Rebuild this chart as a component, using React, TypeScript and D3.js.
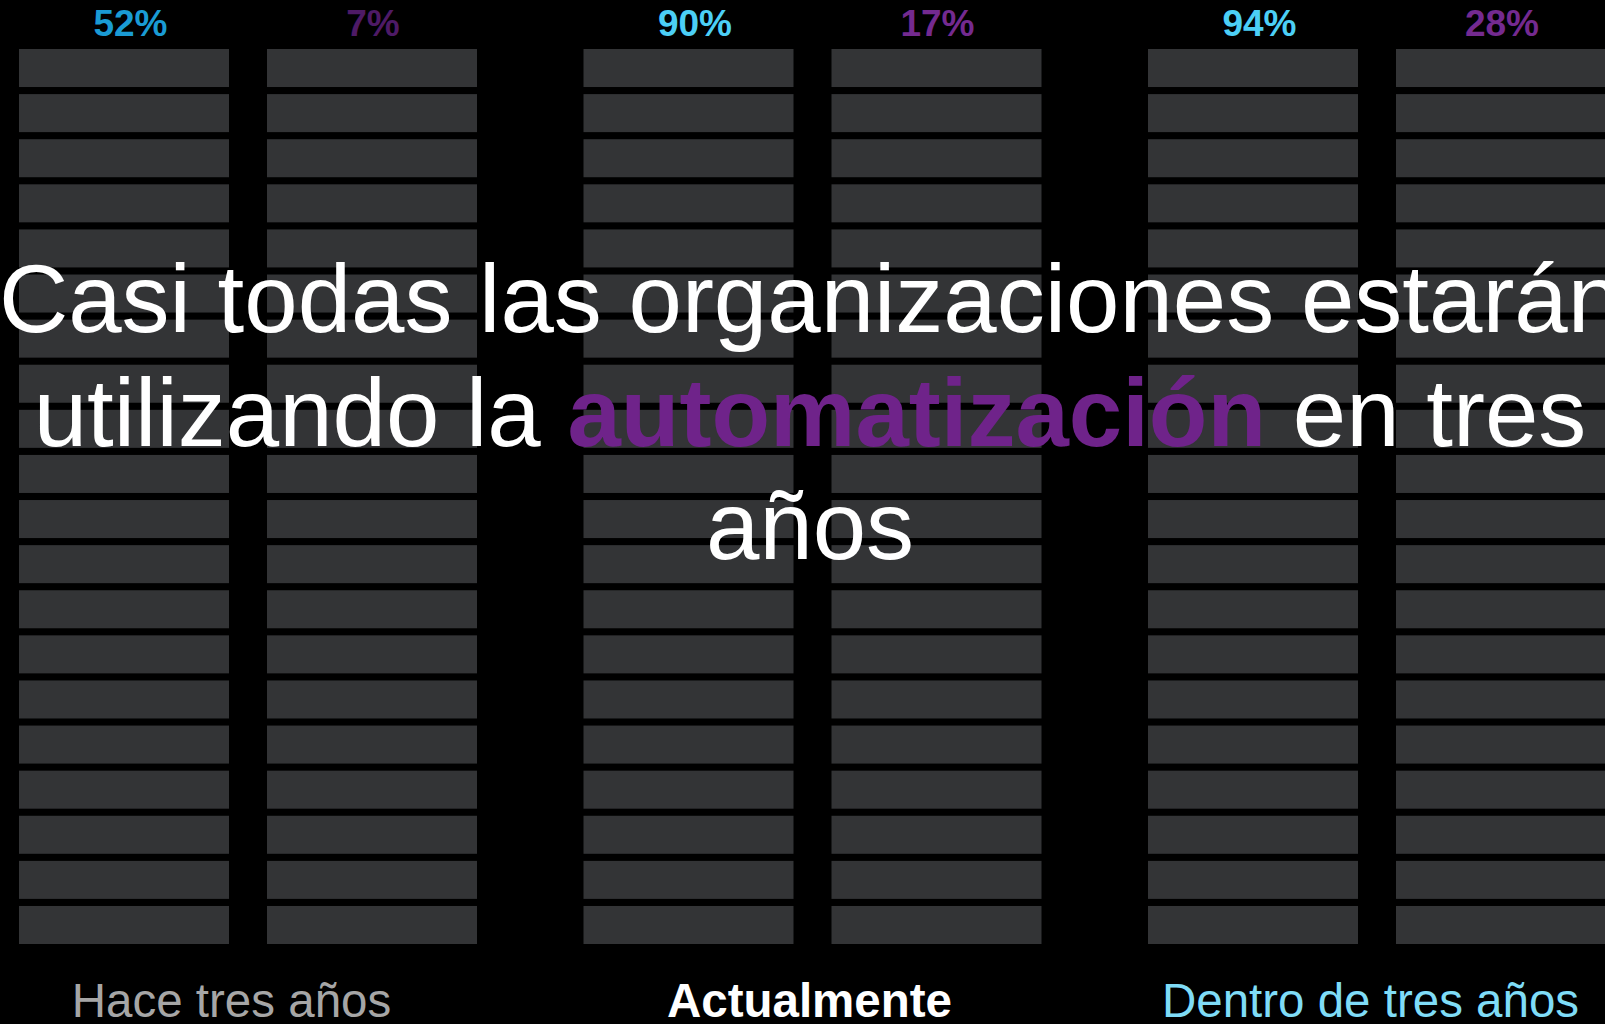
import React from "react";
import * as d3 from "d3";

const periods = ["Hace tres años", "Actualmente", "Dentro de tres años"];
const series = ["primary", "secondary"];
const primaryValues = [52, 90, 94];
const secondaryValues = [7, 17, 28];
const segmentCount = 20;
const titleLine1 = "Casi todas las organizaciones estarán";
const titleLine2Before = "utilizando la ";
const titleLine2Highlight = "automatización";
const titleLine2After = " en tres";
const titleLine3 = "años";

const W = 1605;
const H = 1024;
const FONT = "'Liberation Sans', Arial, Helvetica, sans-serif";

const primaryColors = ["#1a9bd4", "#4ccff6", "#4ccff6"];
const secondaryColors = ["#4e1a66", "#742a90", "#742a90"];
const periodColors = ["#a6a6a6", "#ffffff", "#7fdcf7"];
const periodWeights = ["normal", "bold", "normal"];
const periodDx = [-16.5, -3, -6.5];
const GROUP_W = 458;
const seriesDx = [6.5, 1];

export default function App() {
  const groupX = d3
    .scaleBand<string>()
    .domain(periods)
    .range([19, 19 + 3 * 564.5])
    .paddingInner(0)
    .paddingOuter(0);

  const segY = d3
    .scaleBand<number>()
    .domain(d3.range(segmentCount))
    .range([49, 944])
    .paddingInner(0.157)
    .paddingOuter(0);

  const inner = d3
    .scaleBand<string>()
    .domain(series)
    .range([0, GROUP_W])
    .paddingInner(0.1532)
    .paddingOuter(0);

  const columns = periods.flatMap((p, gi) =>
    series.map((s, si) => {
      const value = si === 0 ? primaryValues[gi] : secondaryValues[gi];
      const color = si === 0 ? primaryColors[gi] : secondaryColors[gi];
      return {
        key: `${p}-${s}`,
        x: (groupX(p) as number) + (inner(s) as number),
        w: inner.bandwidth(),
        value,
        color,
        dx: seriesDx[si],
      };
    })
  );

  return (
    <div style={{ position: "absolute", left: 0, top: 0, width: W, height: H, background: "#000" }}>
      <svg width={W} height={H} style={{ display: "block", background: "#000" }}>
        <rect x={0} y={0} width={W} height={H} fill="#000" />
        {columns.map((c) => (
          <g key={c.key}>
            {d3.range(segmentCount).map((i) => (
              <rect
                key={i}
                x={c.x}
                y={segY(i)}
                width={c.w}
                height={segY.bandwidth()}
                fill="#333436"
              />
            ))}
            <text
              x={c.x + c.w / 2 + c.dx}
              y={36}
              textAnchor="middle"
              fontFamily={FONT}
              fontWeight="bold"
              fontSize={37}
              fill={c.color}
            >
              {`${c.value}%`}
            </text>
          </g>
        ))}
        {periods.map((p, gi) => (
          <text
            key={p}
            x={(groupX(p) as number) + GROUP_W / 2 + periodDx[gi]}
            y={1017}
            textAnchor="middle"
            fontFamily={FONT}
            fontWeight={periodWeights[gi]}
            fontSize={47.5}
            fill={periodColors[gi]}
          >
            {p}
          </text>
        ))}
        <g fontFamily={FONT} fontSize={96} fill="#ffffff" textAnchor="middle">
          <text x={810} y={332}>{titleLine1}</text>
          <text x={810} y={445.5} xmlSpace="preserve">
            <tspan>{titleLine2Before}</tspan>
            <tspan fontWeight="bold" fill="#6f238a">{titleLine2Highlight}</tspan>
            <tspan>{titleLine2After}</tspan>
          </text>
          <text x={810} y={559}>{titleLine3}</text>
        </g>
      </svg>
    </div>
  );
}
